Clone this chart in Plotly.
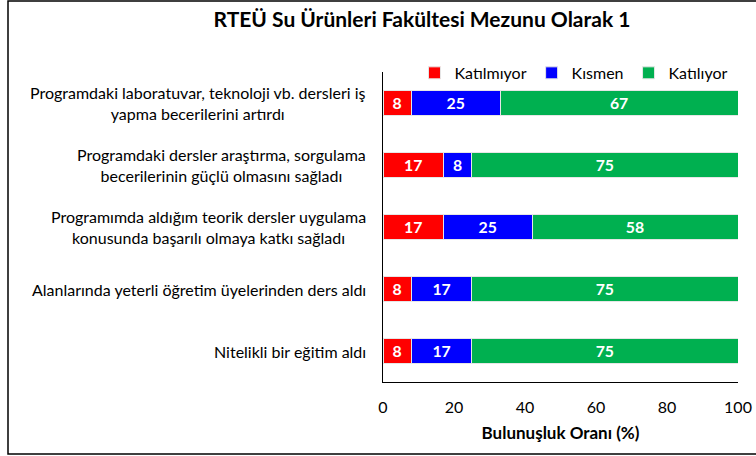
import plotly.graph_objects as go

categories = [
    "Programdaki laboratuvar, teknoloji vb. dersleri iş<br>yapma becerilerini artırdı",
    "Programdaki dersler araştırma, sorgulama<br>becerilerinin güçlü olmasını sağladı",
    "Programımda aldığım teorik dersler uygulama<br>konusunda başarılı olmaya katkı sağladı",
    "Alanlarında yeterli öğretim üyelerinden ders aldı",
    "Nitelikli bir eğitim aldı",
]
katilmiyor = [8, 17, 17, 8, 8]
kismen = [25, 8, 25, 17, 17]
katiliyor = [67, 75, 58, 75, 75]
series_names = ["Katılmıyor", "Kısmen", "Katılıyor"]
colors = ["#FF0000", "#0000FF", "#00B050"]
x_ticks = [0, 20, 40, 60, 80, 100]

FONT = "Lato"

fig = go.Figure()
for name, vals, col in zip(series_names, [katilmiyor, kismen, katiliyor], colors):
    fig.add_trace(go.Bar(
        y=categories, x=vals, name=name, orientation="h",
        marker=dict(color=col, line=dict(color="#E6E6E6", width=1)),
        width=0.4,
        text=[str(v) for v in vals], textposition="inside", textangle=0,
        insidetextanchor="middle",
        textfont=dict(family=FONT, size=16, color="white", weight="bold"),
        cliponaxis=False, hoverinfo="skip",
    ))

# category labels, centred multi-line like the original
for cat in categories:
    fig.add_annotation(x=0, y=cat, xref="paper", yref="y", text=cat,
                       xanchor="right", yanchor="middle", align="center",
                       xshift=-15, showarrow=False,
                       font=dict(family=FONT, size=16, color="#000000"))

fig.update_layout(
    barmode="stack",
    width=756, height=456,
    margin=dict(l=383, r=18, t=72, b=74, autoexpand=False),
    paper_bgcolor="white", plot_bgcolor="white",
    font=dict(family=FONT, size=16, color="#000000"),
    title=dict(text="<b>RTEÜ Su Ürünleri Fakültesi Mezunu Olarak 1</b>",
               x=422 / 756, xanchor="center", y=1 - 20 / 456, yanchor="middle",
               xref="container", yref="container",
               font=dict(family=FONT, size=21, color="#000000")),
    legend=dict(orientation="h", x=0.538, xanchor="center", y=0.997, yanchor="middle",
                font=dict(family=FONT, size=16), traceorder="normal",
                itemwidth=30, bgcolor="rgba(0,0,0,0)"),
    showlegend=True,
    hovermode=False,
)
fig.update_xaxes(range=[0, 100], tickvals=x_ticks, showgrid=False,
                 showline=True, linecolor="#000000", linewidth=1,
                 ticks="", tickfont=dict(family=FONT, size=16), ticklabelstandoff=11,
                 title=dict(text="<b>Bulunuşluk Oranı (%)</b>",
                            font=dict(family=FONT, size=17), standoff=11),
                 zeroline=False, automargin=False)
fig.update_yaxes(autorange="reversed", showline=True, linecolor="#000000", linewidth=1,
                 ticks="", showticklabels=False, automargin=False)

# chart border (left, top, bottom edges; right edge lies outside the window)
fig.add_shape(type="rect", xref="paper", yref="paper",
              x0=-375 / 355, x1=2.0, y0=-(454 - 382) / 310, y1=(382 - 1) / 310,
              line=dict(color="#000000", width=1.5), fillcolor="rgba(0,0,0,0)", layer="below")

fig.write_html("out.html", config={"displayModeBar": False},
               post_script="document.body.style.margin='0';document.body.style.overflow='hidden';")
